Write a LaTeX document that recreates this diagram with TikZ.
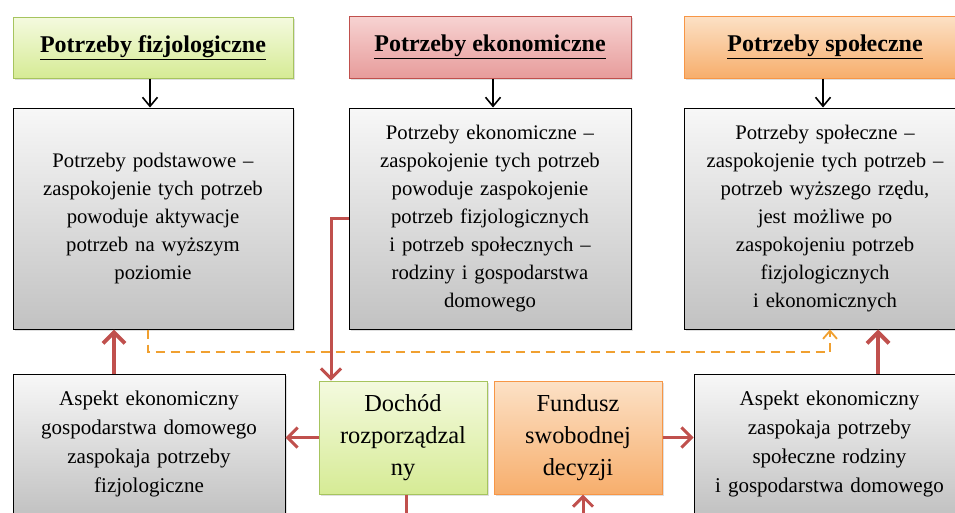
\documentclass[tikz,border=0pt]{standalone}
\usepackage{fontspec}
\setmainfont{Liberation Serif}
\usetikzlibrary{arrows.meta,shadows}
\definecolor{redline}{HTML}{C0504D}
\definecolor{orangeline}{HTML}{F0A030}
\definecolor{greentop}{HTML}{F4FADF}
\definecolor{greenbot}{HTML}{D6EB95}
\definecolor{greenedge}{HTML}{A6C45E}
\definecolor{redtop}{HTML}{F7D3D2}
\definecolor{redbot}{HTML}{E79C9B}
\definecolor{orangetop}{HTML}{FCE1C6}
\definecolor{orangebot}{HTML}{F7AE6C}
\definecolor{orangeedge}{HTML}{F79646}
\begin{document}
\begin{tikzpicture}[x=1pt,y=-1pt,
  base/.style={draw,line width=1pt,align=center,inner sep=2pt,
    drop shadow={shadow xshift=1.5pt,shadow yshift=-1.5pt,opacity=0.25}},
  headfont/.style={font=\fontsize{24}{26}\selectfont\bfseries},
  headgreen/.style={base,headfont,draw=greenedge,top color=greentop,bottom color=greenbot,minimum height=61},
  headred/.style={base,headfont,draw=redline,top color=redtop,bottom color=redbot,minimum height=62},
  headorange/.style={base,headfont,draw=orangeedge,top color=orangetop,bottom color=orangebot,minimum height=62},
  graybox/.style={base,draw=black,top color=gray!6,bottom color=gray!48,
    font=\fontsize{20.7}{28}\selectfont},
  lowgray/.style={graybox,minimum height=140,text width=262,font=\fontsize{21}{29}\selectfont},
  greenbox/.style={base,draw=greenedge,top color=greentop,bottom color=greenbot,
    minimum width=168,minimum height=113,text width=164,font=\fontsize{24.4}{32}\selectfont},
  orangebox/.style={base,draw=orangeedge,top color=orangetop,bottom color=orangebot,
    minimum width=168,minimum height=113,text width=164,font=\fontsize{24.4}{32}\selectfont},
  blackarrow/.style={-{Straight Barb[length=9pt,width=15pt,line width=1.6pt]},line width=1.6pt},
  redthick/.style={redline,line width=4pt,-{Straight Barb[length=11pt,width=22pt,line width=4pt]}},
  redthin/.style={redline,line width=3pt,-{Straight Barb[length=10pt,width=20pt,line width=3pt]}},
  orangedash/.style={orangeline,line width=1.8pt,dash pattern=on 9pt off 6pt,
    -{Straight Barb[length=8pt,width=14pt,line width=1.8pt]}}]
\useasboundingbox (0,0) rectangle (955,512);
\clip (0,0) rectangle (955,512);

% top row: headings
\node[headgreen,minimum width=280] (h1) at (153,47.5) {\underline{Potrzeby fizjologiczne}};
\node[headred,minimum width=282] (h2) at (490,47) {\underline{Potrzeby ekonomiczne}};
\node[headorange,minimum width=282] (h3) at (825,47) {\underline{Potrzeby społeczne}};

% middle row: descriptions
\node[graybox,minimum width=280,minimum height=221,text width=262] (m1) at (153,218.5)
  {Potrzeby podstawowe –\\ zaspokojenie tych potrzeb\\ powoduje aktywacje\\ potrzeb na wyższym\\ poziomie};
\node[graybox,minimum width=282,minimum height=221,text width=266] (m2) at (490,218.5)
  {Potrzeby ekonomiczne –\\ zaspokojenie tych potrzeb\\ powoduje zaspokojenie\\ potrzeb fizjologicznych\\ i potrzeb społecznych –\\ rodziny i gospodarstwa\\ domowego};
\node[graybox,minimum width=282,minimum height=221,text width=266] (m3) at (825,218.5)
  {Potrzeby społeczne –\\ zaspokojenie tych potrzeb –\\ potrzeb wyższego rzędu,\\ jest możliwe po\\ zaspokojeniu potrzeb\\ fizjologicznych\\ i ekonomicznych};

% bottom row
\node[lowgray,minimum width=272] (b1) at (149,444)
  {Aspekt ekonomiczny\\ gospodarstwa domowego\\ zaspokaja potrzeby\\ fizjologiczne};
\node[greenbox] (dochod) at (403,437.5) {Dochód\\ rozporządzal\\ ny};
\node[orangebox] (fundusz) at (578,437.5) {Fundusz\\ swobodnej\\ decyzji};
\node[lowgray,minimum width=271] (b3) at (829.5,444)
  {Aspekt ekonomiczny\\ zaspokaja potrzeby\\ społeczne rodziny\\ i gospodarstwa domowego};

% heading -> description
\draw[blackarrow] ([xshift=-3]h1.south) -- ([xshift=-3]m1.north);
\draw[blackarrow] ([xshift=3]h2.south) -- ([xshift=3]m2.north);
\draw[blackarrow] ([xshift=-2]h3.south) -- ([xshift=-2]m3.north);

% bottom aspects feed the needs above
\draw[redthick] (b1.north -| 114,0) -- (m1.south -| 114,0);
\draw[redthick] (b3.north -| 878,0) -- (m3.south -| 878,0);

% income flows
\coordinate (elbow) at (331,218);
\draw[redthin] (m2.west |- elbow) -- (elbow) -- (dochod.north -| elbow);
\draw[redthin] (dochod.west) -- (b1.east |- dochod.west);
\draw[redthin] (fundusz.east) -- (b3.west |- fundusz.east);

% links leaving the lower edge
\coordinate (dout) at (406,520);
\coordinate (fin) at (583,520);
\draw[redline,line width=3pt] (dochod.south -| dout) -- (dout);
\draw[redthin] (fin) -- (fundusz.south -| fin);

% dashed link between the outer descriptions
\coordinate (dl) at (148,352);
\coordinate (dr) at (830,352);
\draw[orangedash] (m1.south -| dl) -- (dl) -- (dr) -- (m3.south -| dr);
\end{tikzpicture}
\end{document}
